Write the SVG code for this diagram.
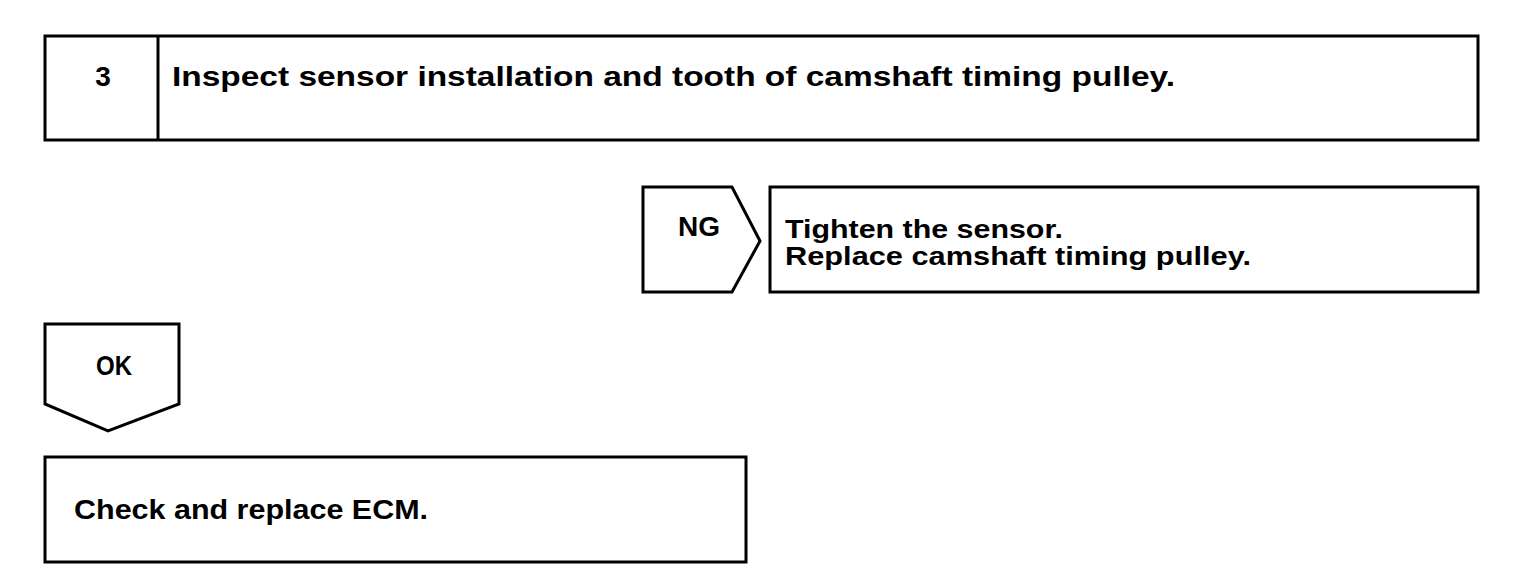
<svg xmlns="http://www.w3.org/2000/svg" width="1520" height="582" viewBox="0 0 1520 582">
<style>
.box{fill:#fff;stroke:#000;stroke-width:3}
.t{font-family:"Liberation Sans",Arial,sans-serif;font-weight:bold;font-size:28px;fill:#000}
.s{font-size:26px}
.c{text-anchor:middle}
</style>
<rect width="1520" height="582" fill="#fff"/>
<g id="step3">
<rect class="box" x="45" y="36" width="1433" height="104"/>
<line x1="158" y1="36" x2="158" y2="140" stroke="#000" stroke-width="3"/>
<text class="t c" x="103" y="86">3</text>
<text class="t" x="172" y="86" textLength="1003" lengthAdjust="spacingAndGlyphs">Inspect sensor installation and tooth of camshaft timing pulley.</text>
</g>
<g id="ng">
<polygon class="box" points="643,187 732,187 760,241 732,292 643,292"/>
<text class="t" x="678" y="236" textLength="42" lengthAdjust="spacingAndGlyphs">NG</text>
</g>
<g id="fix">
<rect class="box" x="770" y="187" width="708" height="105"/>
<text class="t s" x="785" y="238" textLength="278" lengthAdjust="spacingAndGlyphs">Tighten the sensor.</text>
<text class="t s" x="785" y="265" textLength="466" lengthAdjust="spacingAndGlyphs">Replace camshaft timing pulley.</text>
</g>
<g id="ok">
<polygon class="box" points="45,324 179,324 179,404 108,431 45,404"/>
<text class="t" x="96" y="375" textLength="36" lengthAdjust="spacingAndGlyphs">OK</text>
</g>
<g id="ecm">
<rect class="box" x="45" y="457" width="701" height="105"/>
<text class="t" x="74" y="519" textLength="354" lengthAdjust="spacingAndGlyphs">Check and replace ECM.</text>
</g>
<g id="connectors"></g>
</svg>
